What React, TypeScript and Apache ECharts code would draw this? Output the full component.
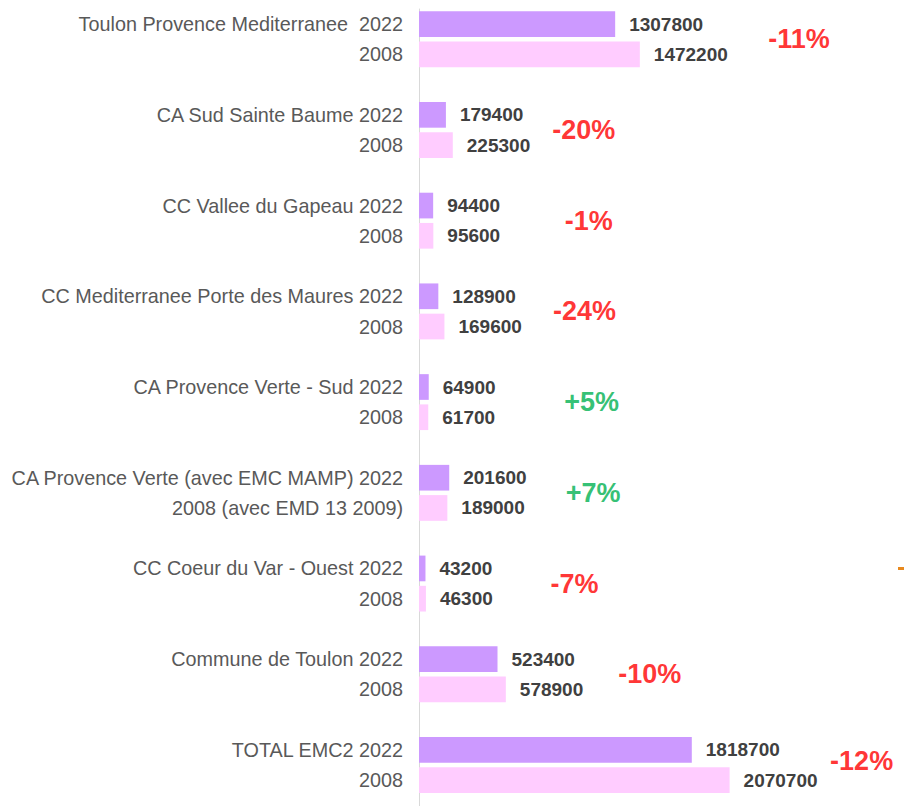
import React, { useEffect, useRef } from "react";
import * as echarts from "echarts";

const groupLabels2022 = [
  "Toulon Provence Mediterranee  2022",
  "CA Sud Sainte Baume 2022",
  "CC Vallee du Gapeau 2022",
  "CC Mediterranee Porte des Maures 2022",
  "CA Provence Verte - Sud 2022",
  "CA Provence Verte (avec EMC MAMP) 2022",
  "CC Coeur du Var - Ouest 2022",
  "Commune de Toulon 2022",
  "TOTAL EMC2 2022",
];
const groupLabels2008 = [
  "2008",
  "2008",
  "2008",
  "2008",
  "2008",
  "2008 (avec EMD 13 2009)",
  "2008",
  "2008",
  "2008",
];
const values2022 = [1307800, 179400, 94400, 128900, 64900, 201600, 43200, 523400, 1818700];
const values2008 = [1472200, 225300, 95600, 169600, 61700, 189000, 46300, 578900, 2070700];

// layout: horizontal pixel offset of each change label from the longer bar's end
const pctLabelOffsets = [128, 99, 131, 108, 135, 116, 124, 112, 100];

const COLOR_2022 = "#CC99FF";
const COLOR_2008 = "#FFCCFF";
const FONT = "'Liberation Sans', Arial, sans-serif";

export default function App() {
  const ref = useRef<HTMLDivElement>(null);

  useEffect(() => {
    if (!ref.current) return;
    const chart = echarts.init(ref.current, undefined, { renderer: "svg" });

    const categories: string[] = [];
    const barData: any[] = [];
    groupLabels2022.forEach((lab, g) => {
      categories.push(lab, groupLabels2008[g], "");
      barData.push(
        { value: values2022[g], itemStyle: { color: COLOR_2022 } },
        { value: values2008[g], itemStyle: { color: COLOR_2008 } },
        "-"
      );
    });
    const nSlots = categories.length;

    const pctData = values2022.map((v22, g) => {
      const v08 = values2008[g];
      const pct = Math.round(((v22 - v08) / v08) * 100);
      const text = (pct > 0 ? "+" : "") + pct + "%";
      return {
        value: [Math.max(v22, v08), g * 3 + 1],
        label: {
          formatter: text,
          color: pct > 0 ? "#00B050" : "#FF0000",
          offset: [pctLabelOffsets[g], g === 8 ? -4 : 0],
        },
      };
    });

    const slotH = 30.24;
    chart.setOption({
      animation: false,
      grid: { left: 419, width: 450, top: 9, height: nSlots * slotH },
      xAxis: {
        type: "value",
        min: 0,
        max: 3000000,
        show: false,
      },
      yAxis: [
        {
          type: "category",
          data: categories,
          inverse: true,
          axisLine: { show: true, lineStyle: { color: "#D9D9D9", width: 1 } },
          axisTick: { show: false },
          axisLabel: {
            interval: 0,
            margin: 16,
            fontSize: 19.8,
            color: "#595959",
            fontFamily: FONT,
          },
        },
        {
          type: "value",
          min: 0,
          max: nSlots,
          inverse: true,
          show: false,
        },
      ],
      series: [
        {
          type: "bar",
          data: barData,
          barCategoryGap: "15%",
          yAxisIndex: 0,
          label: {
            show: true,
            position: "right",
            distance: 14,
            fontSize: 19,
            fontWeight: "bold",
            color: "#404040",
            fontFamily: FONT,
          },
        },
        {
          type: "scatter",
          yAxisIndex: 1,
          data: pctData,
          symbolSize: 1,
          itemStyle: { color: "rgba(0,0,0,0)" },
          label: {
            show: true,
            position: "right",
            distance: 0,
            fontSize: 27,
            fontWeight: "bold",
            fontFamily: FONT,
          },
        },
      ],
      graphic: [
        {
          type: "rect",
          shape: { x: 898, y: 567, width: 6, height: 3 },
          style: { fill: "#E8891E" },
        },
      ],
    });

    return () => chart.dispose();
  }, []);

  return (
    <div
      ref={ref}
      style={{ position: "fixed", left: 0, top: 0, width: 904, height: 850, background: "#fff" }}
    />
  );
}
